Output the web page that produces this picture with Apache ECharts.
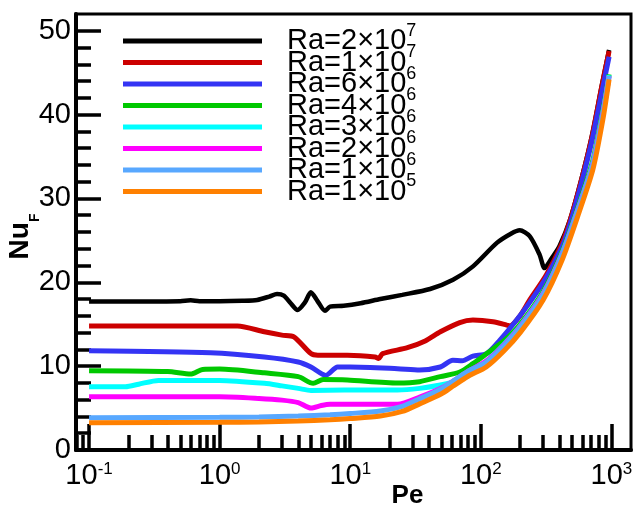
<!DOCTYPE html>
<html>
<head>
<meta charset="utf-8">
<script src="https://cdn.jsdelivr.net/npm/echarts@6/dist/echarts.min.js"></script>
<style>
  html, body { margin: 0; padding: 0; background: #fff; }
  #chart { width: 633px; height: 509px; }
</style>
</head>
<body>
<div id="chart"></div>
<script>
// Pe is plotted on a log axis: x = log10(Pe)
const peRa2e7 = [0.1, 0.3, 0.5, 0.6, 0.7, 1, 1.5, 1.94, 2.4, 2.75, 3.1, 3.5, 3.95, 4.5, 4.99, 5.6, 6.41, 7.0, 8.9, 12, 17, 25, 40.9, 61.3, 87.1, 132.6, 170, 198.6, 236.6, 281.8, 307.6, 350, 400, 483, 589, 710, 845, 960];
const nuRa2e7 = [17.7, 17.7, 17.75, 17.85, 17.75, 17.75, 17.8, 17.9, 18.3, 18.6, 18.4, 17.5, 16.7, 17.6, 18.8, 17.8, 16.6, 17.1, 17.2, 17.5, 18.0, 18.5, 19.2, 20.3, 21.9, 24.7, 25.8, 26.2, 25.5, 23.3, 21.7, 22.9, 24.3, 27.5, 32.3, 37.5, 43.5, 47.7];

const peRa1e7 = [0.1, 1.37, 2.2, 3, 3.7, 5, 5.65, 9.5, 15.5, 16.5, 17.7, 27.4, 37.5, 49, 69, 87, 124, 158, 167, 200, 237, 318, 420, 483, 589, 710, 845, 960];
const nuRa1e7 = [14.8, 14.8, 14.1, 13.7, 13.5, 11.5, 11.3, 11.3, 11.1, 10.9, 11.5, 12.2, 13.0, 14.1, 15.2, 15.5, 15.3, 14.9, 14.8, 16.0, 17.9, 20.9, 24.7, 27.4, 32.2, 37.4, 43.4, 47.6];

const peRa6e6 = [0.1, 0.85, 2.2, 4, 5, 6.5, 8, 10, 23, 34, 49, 61, 72, 87, 111, 140, 188, 237, 318, 420, 483, 589, 710, 845, 960];
const nuRa6e6 = [11.85, 11.6, 11.1, 10.5, 9.9, 8.9, 9.9, 9.9, 9.7, 9.55, 9.9, 10.7, 10.65, 11.2, 11.5, 13.1, 15.5, 17.6, 20.6, 24.3, 27.0, 31.8, 36.9, 42.7, 46.9];

const peRa4e6 = [0.1, 0.4, 0.6, 0.74, 1, 2.2, 4, 5.2, 6.2, 9.5, 23, 34, 49, 69, 87, 111, 150, 200, 300, 420, 550, 720, 860, 960];
const nuRa4e6 = [9.45, 9.35, 9.05, 9.6, 9.65, 9.2, 8.75, 7.95, 8.4, 8.35, 8.0, 8.15, 8.75, 9.3, 10.3, 11.5, 13.0, 15.0, 18.9, 23.7, 28.8, 34.5, 40.5, 44.8];

const peRa3e6 = [0.1, 0.19, 0.24, 0.34, 1, 2.2, 3, 4, 5, 9, 23, 34, 49, 69, 87, 111, 150, 200, 300, 420, 550, 720, 860, 960];
const nuRa3e6 = [7.55, 7.55, 7.85, 8.3, 8.3, 7.95, 7.65, 7.35, 7.1, 7.15, 7.15, 7.35, 7.75, 8.35, 9.2, 10.6, 12.6, 14.8, 18.7, 23.5, 28.6, 34.2, 40.2, 44.7];

const peRa2e6 = [0.1, 1, 2, 3, 4, 5, 6, 7, 10, 23, 34, 50, 61, 80, 110, 150, 200, 300, 420, 550, 720, 860, 960];
const nuRa2e6 = [6.35, 6.35, 6.15, 5.95, 5.65, 5.0, 5.3, 5.45, 5.45, 5.45, 6.3, 7.4, 8.2, 9.4, 10.6, 12.5, 14.7, 18.6, 23.4, 28.5, 34.1, 40.1, 44.6];

const peRa1e6 = [0.1, 1, 2, 4, 7, 10, 17, 25, 34, 50, 61, 80, 110, 150, 200, 300, 420, 550, 720, 860, 960];
const nuRa1e6 = [3.85, 3.9, 3.95, 4.05, 4.2, 4.35, 4.65, 5.2, 6.1, 7.3, 8.2, 9.4, 10.5, 12.4, 14.6, 18.5, 23.3, 28.4, 34.0, 40.0, 44.6];

const peRa1e5 = [0.1, 1, 2, 4, 7, 10, 17, 25, 34, 50, 61, 80, 110, 150, 200, 300, 420, 550, 720, 860, 960];
const nuRa1e5 = [3.25, 3.3, 3.35, 3.45, 3.6, 3.75, 4.05, 4.6, 5.5, 6.7, 7.6, 8.8, 9.9, 11.8, 14.0, 17.9, 22.7, 27.8, 33.4, 39.4, 44.2];

const raCoef = ['2', '1', '6', '4', '3', '2', '1', '1'];
const raExp = ['7', '7', '6', '6', '6', '6', '6', '5'];
const colors = ['#000000', '#cc0000', '#3434f4', '#00c800', '#00ffff', '#ff00ff', '#58a8ff', '#ff8000'];
const peList = [peRa2e7, peRa1e7, peRa6e6, peRa4e6, peRa3e6, peRa2e6, peRa1e6, peRa1e5];
const nuList = [nuRa2e7, nuRa1e7, nuRa6e6, nuRa4e6, nuRa3e6, nuRa2e6, nuRa1e6, nuRa1e5];

// axis ticks
const xMajorPe = [0.1, 1, 10, 100, 1000];
const xMinorPe = [0.08, 0.09, 0.2, 0.3, 0.4, 0.5, 0.6, 0.7, 0.8, 0.9, 2, 3, 4, 5, 6, 7, 8, 9,
  20, 30, 40, 50, 60, 70, 80, 90, 200, 300, 400, 500, 600, 700, 800, 900];
const yMajor = [0, 10, 20, 30, 40, 50];
const yMinor = [2, 4, 6, 8, 12, 14, 16, 18, 22, 24, 26, 28, 32, 34, 36, 38, 42, 44, 46, 48];

const FONT = '"Liberation Sans", Arial, sans-serif';
const X_MIN = -1.1, X_MAX = 3.15;

const names = raCoef.map((c, i) => 'Ra=' + c + '×10^' + raExp[i]);

const series = names.map((name, i) => ({
  name: name,
  type: 'line',
  data: peList[i].map((p, j) => [Math.log10(p), nuList[i][j]]),
  showSymbol: false,
  symbol: 'none',
  smooth: 0.25,
  lineStyle: { color: colors[i], width: i === 0 ? 4.5 : 5 },
  itemStyle: { color: colors[i] },
  xAxisIndex: 0,
  yAxisIndex: 0
}));

const tickLine = { color: '#000', width: 3.5 };

const option = {
  animation: false,
  backgroundColor: '#fff',
  textStyle: { fontFamily: FONT },
  grid: {
    left: 76, right: 2, top: 14, bottom: 59,
    show: true, borderColor: '#000', borderWidth: 3,
    containLabel: false,
    outerBoundsMode: 'none'
  },
  legend: {
    orient: 'vertical',
    left: 123, top: 22,
    padding: 0,
    itemGap: -12,
    itemWidth: 139, itemHeight: 5,
    icon: 'rect',
    data: names,
    formatter: (n) => n.replace(/^(.*)\^(\d+)$/, '{b|$1}{s|$2}'),
    textStyle: {
      color: '#000',
      padding: [0, 0, 0, 20],
      rich: {
        b: { fontSize: 29, lineHeight: 38, fontFamily: FONT, color: '#000' },
        s: { fontSize: 18, verticalAlign: 'top', fontFamily: FONT, color: '#000' }
      }
    }
  },
  xAxis: [
    {
      type: 'value', position: 'bottom',
      min: X_MIN, max: X_MAX,
      axisLine: { show: true, onZero: false, lineStyle: { color: '#000', width: 4 } },
      axisTick: { show: true, inside: true, length: 26, lineStyle: tickLine,
        customValues: xMajorPe.map(Math.log10) },
      axisLabel: {
        customValues: xMajorPe.map(Math.log10),
        margin: 11,
        formatter: (v) => '{b|10}{s|' + Math.round(v) + '}',
        rich: {
          b: { fontSize: 29, lineHeight: 29, fontFamily: FONT, color: '#000' },
          s: { fontSize: 17, verticalAlign: 'top', fontFamily: FONT, color: '#000' }
        }
      },
      splitLine: { show: false },
      name: 'Pe',
      nameLocation: 'middle',
      nameGap: 33,
      nameMoveOverlap: false,
      nameTextStyle: { fontSize: 26, fontWeight: 'bold', color: '#000', fontFamily: FONT,
        lineHeight: 26, padding: [0, 0, 0, 108] }
    },
    {
      type: 'value', position: 'bottom',
      min: X_MIN, max: X_MAX,
      axisLine: { show: false, onZero: false },
      axisTick: { show: true, inside: true, length: 15, lineStyle: tickLine,
        customValues: xMinorPe.map(Math.log10) },
      axisLabel: { show: false },
      splitLine: { show: false }
    }
  ],
  yAxis: [
    {
      type: 'value', position: 'left',
      min: 0, max: 52,
      axisLine: { show: true, onZero: false, lineStyle: { color: '#000', width: 4 } },
      axisTick: { show: true, inside: true, length: 25, lineStyle: tickLine, customValues: yMajor },
      axisLabel: { customValues: yMajor, margin: 5, fontSize: 29, color: '#000', fontFamily: FONT },
      splitLine: { show: false },
      name: '{n|Nu}{f|F}',
      nameLocation: 'middle',
      nameRotate: 90,
      nameGap: 34,
      nameMoveOverlap: false,
      nameTextStyle: {
        padding: [0, 9, 0, 0],
        rich: {
          n: { fontSize: 28, fontWeight: 'bold', lineHeight: 36, verticalAlign: 'top', fontFamily: FONT, color: '#000' },
          f: { fontSize: 14, fontWeight: 'bold', verticalAlign: 'bottom', fontFamily: FONT, color: '#000' }
        }
      }
    },
    {
      type: 'value', position: 'left',
      min: 0, max: 52,
      axisLine: { show: false, onZero: false },
      axisTick: { show: true, inside: true, length: 15, lineStyle: tickLine, customValues: yMinor },
      axisLabel: { show: false },
      splitLine: { show: false }
    }
  ],
  series: series
};

const chart = echarts.init(document.getElementById('chart'), null, { renderer: 'canvas' });
chart.setOption(option);
</script>
</body>
</html>
